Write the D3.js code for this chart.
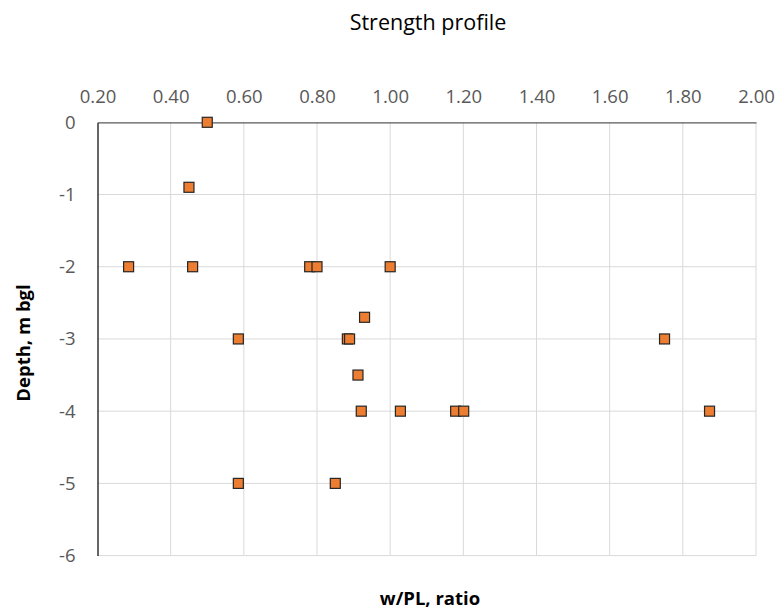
<!DOCTYPE html>
<html><head><meta charset="utf-8">
<script src="https://cdn.jsdelivr.net/npm/d3@7"></script>
<style>body{margin:0;background:#fff;} text{font-family:"Open Sans","Noto Sans",sans-serif;}</style>
</head><body>
<svg id="c" width="780" height="611"></svg>
<script>
const ratio = [0.50, 0.45, 0.285, 0.46, 0.78, 0.80, 1.00, 0.93, 0.585, 0.883, 0.889, 1.75, 0.912, 0.921, 1.028, 1.179, 1.201, 1.873, 0.585, 0.85];
const depth = [0, -0.9, -2, -2, -2, -2, -2, -2.7, -3, -3, -3, -3, -3.5, -4, -4, -4, -4, -4, -5, -5];
const xTicks = [0.2,0.4,0.6,0.8,1.0,1.2,1.4,1.6,1.8,2.0];
const yTicks = [0,-1,-2,-3,-4,-5,-6];
const title = "Strength profile", xTitle = "w/PL, ratio", yTitle = "Depth, m bgl";

const svg = d3.select("#c");
const L=97.5, R=756, T=122.3, B=555.6;
const x = d3.scaleLinear().domain([0.2,2.0]).range([L,R]);
const y = d3.scaleLinear().domain([0,-6]).range([T,B]);

// gridlines
svg.append("g").selectAll("line").data(xTicks.slice(1)).join("line")
  .attr("x1",d=>x(d)).attr("x2",d=>x(d)).attr("y1",T).attr("y2",B)
  .attr("stroke","#d9d9d9").attr("stroke-width",1);
svg.append("g").selectAll("line").data(yTicks.slice(1)).join("line")
  .attr("x1",L).attr("x2",R).attr("y1",d=>y(d)).attr("y2",d=>y(d))
  .attr("stroke","#d9d9d9").attr("stroke-width",1);

const ya = svg.append("g").attr("transform",`translate(${L},0)`)
  .call(d3.axisLeft(y).tickValues(yTicks).tickFormat(d=>String(d)).tickSize(0).tickPadding(22));
ya.select(".domain").attr("stroke","#000").attr("stroke-width",1.2);
ya.selectAll("text").attr("font-size",18.5).attr("fill","#595959").attr("font-family","'Open Sans',sans-serif");

// top axis (at y=0)
const xa = svg.append("g").attr("transform",`translate(0,${T})`)
  .call(d3.axisTop(x).tickValues(xTicks).tickFormat(d3.format(".2f")).tickSize(0).tickPadding(19));
xa.select(".domain").attr("stroke","#595959").attr("stroke-width",1.3);
xa.selectAll("text").attr("font-size",18.5).attr("fill","#595959").attr("font-family","'Open Sans',sans-serif");

// points
const s=10;
svg.append("g").selectAll("rect").data(ratio).join("rect")
  .attr("x",(d)=>x(d)-s/2).attr("y",(d,i)=>y(depth[i])-s/2)
  .attr("width",s).attr("height",s)
  .attr("fill","#ED7D31").attr("stroke","#262626").attr("stroke-width",1.2);

svg.append("text").attr("x",428).attr("y",30).attr("text-anchor","middle")
  .attr("font-size",21.5).attr("fill","#000").text(title);
svg.append("text").attr("x",430).attr("y",605).attr("text-anchor","middle")
  .attr("font-size",18.5).attr("font-weight","bold").attr("fill","#000").text(xTitle);
svg.append("text").attr("transform","translate(30,343) rotate(-90)").attr("text-anchor","middle")
  .attr("font-size",18.5).attr("font-weight","bold").attr("fill","#000").text(yTitle);
</script>
</body></html>
